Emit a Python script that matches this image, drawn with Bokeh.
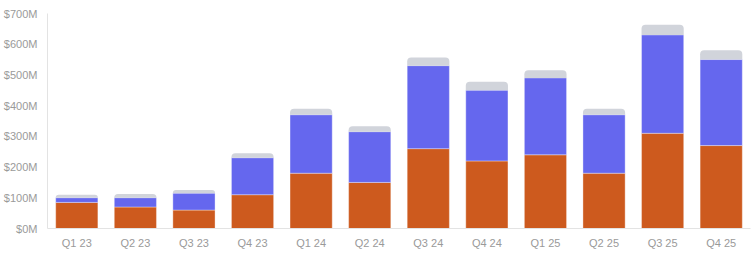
from bokeh.plotting import figure
from bokeh.models import FixedTicker, PrintfTickFormatter, ColumnDataSource
from bokeh.embed import file_html
from bokeh.resources import INLINE

quarters = ["Q1 23", "Q2 23", "Q3 23", "Q4 23", "Q1 24", "Q2 24",
            "Q3 24", "Q4 24", "Q1 25", "Q2 25", "Q3 25", "Q4 25"]
orange_vals = [85, 70, 60, 110, 180, 150, 260, 220, 240, 180, 310, 270]
blue_vals = [15, 30, 55, 120, 190, 165, 270, 230, 250, 190, 320, 280]
gray_vals = [10, 12, 10, 15, 20, 18, 27, 28, 25, 20, 33, 30]
y_ticks = [0, 100, 200, 300, 400, 500, 600, 700]

b1 = [o + b for o, b in zip(orange_vals, blue_vals)]
b2 = [t + g for t, g in zip(b1, gray_vals)]
src = ColumnDataSource(dict(x=quarters, o=orange_vals, b1=b1, b2=b2,
                            zero=[0] * len(quarters)))

p = figure(x_range=quarters, y_range=(0, 700), width=754, height=253,
           output_backend="svg", toolbar_location=None,
           min_border_left=47, min_border_right=4, min_border_top=13,
           min_border_bottom=25)
p.outline_line_color = None
p.xgrid.grid_line_color = None
p.ygrid.grid_line_color = None
p.x_range.range_padding = 0

W = 0.72
p.vbar(x="x", bottom="zero", top="o", width=W, source=src,
       fill_color="#CD5A1E", line_color="#ffffff", line_alpha=0.35, line_width=1)
p.vbar(x="x", bottom="o", top="b1", width=W, source=src,
       fill_color="#6567EE", line_color="#ffffff", line_alpha=0.35, line_width=1)
p.vbar(x="x", bottom="b1", top="b2", width=W, source=src,
       fill_color="#D1D4DB", line_color=None, border_radius=(4, 4, 0, 0))

for ax in (p.xaxis[0], p.yaxis[0]):
    ax.axis_line_color = "#e3e3e3"
    ax.major_tick_line_color = None
    ax.minor_tick_line_color = None
    ax.major_tick_out = 0
    ax.major_tick_in = 0
    ax.minor_tick_out = 0
    ax.minor_tick_in = 0
    ax.major_label_text_color = "#9a9a9a"
    ax.major_label_text_font = "Liberation Sans"
    ax.major_label_text_font_size = "11px"

p.yaxis.ticker = FixedTicker(ticks=y_ticks)
p.yaxis.formatter = PrintfTickFormatter(format="$%dM")
p.yaxis.major_label_standoff = 10
p.xaxis.major_label_standoff = 8

open("out.html", "w").write(file_html(p, INLINE))
